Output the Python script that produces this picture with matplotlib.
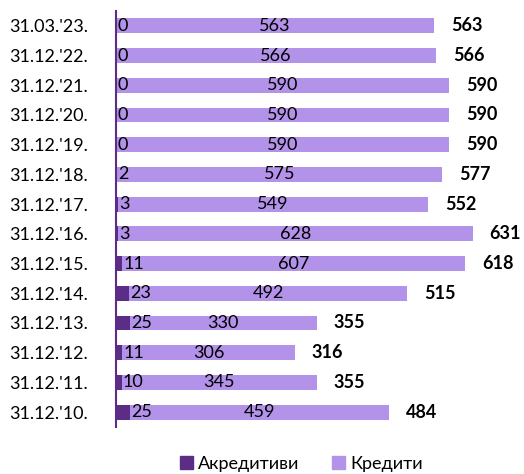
import matplotlib
matplotlib.use('Agg')
import matplotlib.pyplot as plt
from matplotlib.patches import Patch

# --- データ ---
dates = ["31.03.'23.", "31.12.'22.", "31.12.'21.", "31.12.'20.", "31.12.'19.",
         "31.12.'18.", "31.12.'17.", "31.12.'16.", "31.12.'15.", "31.12.'14.",
         "31.12.'13.", "31.12.'12.", "31.12.'11.", "31.12.'10."]
akreditivi = [0, 0, 0, 0, 0, 2, 3, 3, 11, 23, 25, 11, 10, 25]
krediti = [563, 566, 590, 590, 590, 575, 549, 628, 607, 492, 330, 306, 345, 459]
totals = [563, 566, 590, 590, 590, 577, 552, 631, 618, 515, 355, 316, 355, 484]

dark = '#5B2D86'
light = '#B392EA'
fs = 13

plt.rcParams['font.family'] = ['Lato', 'DejaVu Sans']

fig = plt.figure(figsize=(5.24, 4.74), dpi=100)
ax = fig.add_axes([0.2214, 0.0992, 0.7548, 0.8776])

y = list(range(len(dates)))
ax.barh(y, akreditivi, height=0.5, color=dark)
ax.barh(y, krediti, left=akreditivi, height=0.5, color=light)

for i in y:
    ax.text(akreditivi[i] + 2, i, str(akreditivi[i]), va='center', ha='left',
            fontsize=fs)
    ax.text(akreditivi[i] + krediti[i] / 2, i, str(krediti[i]), va='center',
            ha='center', fontsize=fs)
    ax.text(totals[i] + 30, i, str(totals[i]), va='center', ha='left',
            fontsize=fs, fontweight='bold')

ax.set_xlim(0, 700)
ax.set_ylim(len(dates) - 0.5, -0.5)
ax.set_yticks(y)
ax.set_yticklabels(dates, fontsize=fs)
ax.tick_params(axis='y', length=0, pad=20)
ax.set_xticks([])
for s in ['top', 'right', 'bottom']:
    ax.spines[s].set_visible(False)
ax.spines['left'].set_color(dark)
ax.spines['left'].set_linewidth(1.5)

handles = [Patch(color=dark, label='Акредитиви'), Patch(color=light, label='Кредити')]
fig.legend(handles=handles, loc='center', bbox_to_anchor=(0.575, 0.022), ncol=2,
           frameon=False, fontsize=fs, handlelength=0.7, handleheight=0.7,
           handletextpad=0.3, columnspacing=1.8)

fig.savefig('out.png', dpi=100)
